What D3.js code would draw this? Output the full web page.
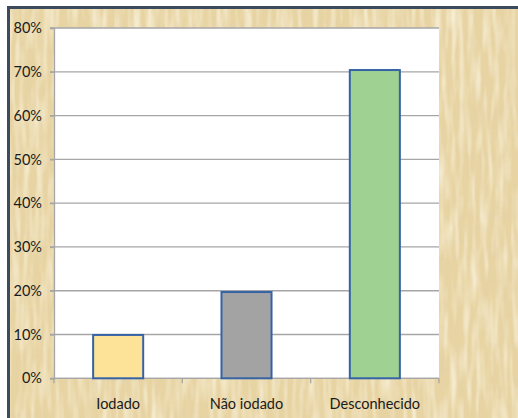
<!DOCTYPE html>
<html>
<head>
<meta charset="utf-8">
<script src="https://cdn.jsdelivr.net/npm/d3@7"></script>
<style>
  html, body { margin: 0; padding: 0; background: #ffffff; }
  svg { display: block; }
</style>
</head>
<body>
<svg id="chart" width="518" height="418"></svg>
<script>
// Salt type distribution (share of households)
const categories = ["Iodado", "Não iodado", "Desconhecido"];
const values = [0.099, 0.197, 0.704];
const barColors = ["#fde398", "#a3a3a3", "#9fd192"];
const tickValues = [0, 0.1, 0.2, 0.3, 0.4, 0.5, 0.6, 0.7, 0.8];

const W = 518, H = 418;
const plot = { left: 54, right: 439, top: 28, bottom: 378.3 };
const font = "Lato, 'Open Sans', sans-serif";

const svg = d3.select("#chart");
const defs = svg.append("defs");

// Papyrus-like backdrop: crossed fibre noise over a warm beige
function fibres(id, freq, seed, color, gain, bias) {
  const f = defs.append("filter").attr("id", id)
    .attr("x", 0).attr("y", 0).attr("width", "100%").attr("height", "100%");
  f.append("feTurbulence").attr("type", "fractalNoise")
    .attr("baseFrequency", freq).attr("numOctaves", 3).attr("seed", seed).attr("result", "n");
  f.append("feGaussianBlur").attr("in", "n").attr("stdDeviation", 0.8).attr("result", "b");
  f.append("feColorMatrix").attr("in", "b").attr("type", "matrix")
    .attr("values", `0 0 0 0 ${color[0]}  0 0 0 0 ${color[1]}  0 0 0 0 ${color[2]}  ${gain} 0 0 0 ${bias}`)
    .attr("result", "tint");
  f.append("feComposite").attr("in", "tint").attr("in2", "SourceGraphic").attr("operator", "in");
}
fibres("fibV", "0.35 0.015", 3, [0.78, 0.64, 0.38], 2.0, -0.9);
fibres("fibH", "0.015 0.3", 11, [0.78, 0.64, 0.38], 2.0, -0.9);
fibres("fibL", "0.25 0.02", 19, [0.97, 0.92, 0.76], 2.0, -0.85);

const bg = svg.append("g");
bg.append("rect").attr("x", 7).attr("y", 6).attr("width", W - 7).attr("height", H - 6).attr("fill", "#e8d4a2");
["fibV", "fibH", "fibL"].forEach(id =>
  bg.append("rect").attr("x", 7).attr("y", 6).attr("width", W - 7).attr("height", H - 6)
    .attr("fill", "#e8d4a2").attr("filter", `url(#${id})`));

// Dark frame on the left and top edges
svg.append("rect").attr("x", 7).attr("y", 6).attr("width", 3).attr("height", H - 6).attr("fill", "#3c4b5e");
svg.append("rect").attr("x", 7).attr("y", 6).attr("width", W - 7).attr("height", 3).attr("fill", "#3c4b5e");

// Plot area
svg.append("rect")
  .attr("x", plot.left).attr("y", plot.top)
  .attr("width", plot.right - plot.left).attr("height", plot.bottom - plot.top)
  .attr("fill", "#ffffff");

const x = d3.scaleBand().domain(categories).range([plot.left, plot.right]).paddingInner(0.61).paddingOuter(0.305);
const y = d3.scaleLinear().domain([0, 0.8]).range([plot.bottom, plot.top]);

// Gridlines
svg.append("g").selectAll("line").data(tickValues).join("line")
  .attr("x1", plot.left - 4).attr("x2", plot.right)
  .attr("y1", d => y(d)).attr("y2", d => y(d))
  .attr("stroke", "#a6a6a6").attr("stroke-width", 1.3);

// Y axis
const yAxis = svg.append("g").attr("transform", `translate(${plot.left},0)`)
  .call(d3.axisLeft(y).tickValues(tickValues).tickFormat(d3.format(".0%")).tickSize(4).tickPadding(8));
yAxis.select(".domain").attr("stroke", "#a6a6a6").attr("stroke-width", 1.3);
yAxis.selectAll(".tick line").attr("stroke", "#a6a6a6").attr("stroke-width", 1.3);
yAxis.selectAll("text").attr("fill", "#1a1a1a").style("font-family", font).style("font-size", "14.5px");

// X axis with category dividers
const xAxis = svg.append("g").attr("transform", `translate(0,${plot.bottom})`)
  .call(d3.axisBottom(x).tickSize(0).tickPadding(20));
xAxis.select(".domain").remove();
xAxis.selectAll("text").attr("fill", "#1a1a1a").style("font-family", font).style("font-size", "14.5px");
svg.append("line").attr("x1", plot.left).attr("x2", plot.right)
  .attr("y1", plot.bottom).attr("y2", plot.bottom)
  .attr("stroke", "#a6a6a6").attr("stroke-width", 1.3);
const dividers = d3.range(categories.length + 1).map(i => plot.left + (plot.right - plot.left) * i / categories.length);
svg.append("g").selectAll("line").data(dividers).join("line")
  .attr("x1", d => d).attr("x2", d => d)
  .attr("y1", plot.bottom).attr("y2", plot.bottom + 5)
  .attr("stroke", "#a6a6a6").attr("stroke-width", 1.3);

// Bars
svg.append("g").selectAll("rect").data(categories).join("rect")
  .attr("x", d => x(d))
  .attr("y", (d, i) => y(values[i]))
  .attr("width", x.bandwidth())
  .attr("height", (d, i) => y(0) - y(values[i]))
  .attr("fill", (d, i) => barColors[i])
  .attr("stroke", "#3563a6").attr("stroke-width", 2);
</script>
</body>
</html>
